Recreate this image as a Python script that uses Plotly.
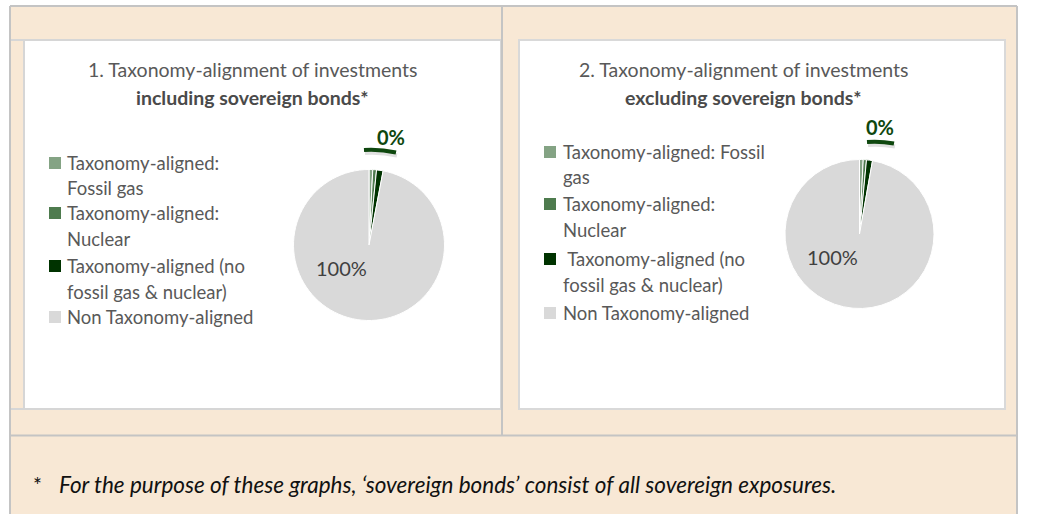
import plotly.graph_objects as go

W, H = 1038, 514

# ---------------- data ----------------
categories = ["Taxonomy-aligned: Fossil gas", "Taxonomy-aligned: Nuclear",
              "Taxonomy-aligned (no fossil gas & nuclear)", "Non Taxonomy-aligned"]
colors = ["#84A384", "#4E7B4E", "#003300", "#D9D9D9"]
values_incl = [0.8, 0.8, 1.4, 97.0]
values_excl = [0.8, 0.7, 1.3, 97.2]
labels_incl = ["0%", "100%"]   # data labels as printed (aligned, non aligned)
labels_excl = ["0%", "100%"]
legend_lines_left = [["Taxonomy-aligned:", "Fossil gas"], ["Taxonomy-aligned:", "Nuclear"],
                     ["Taxonomy-aligned (no", "fossil gas & nuclear)"], ["Non Taxonomy-aligned"]]
legend_lines_right = [["Taxonomy-aligned: Fossil", "gas"], ["Taxonomy-aligned:", "Nuclear"],
                      ["\u00a0Taxonomy-aligned (no", "fossil gas & nuclear)"], ["Non Taxonomy-aligned"]]
title_left = ["1. Taxonomy-alignment of investments", "including sovereign bonds*"]
title_right = ["2. Taxonomy-alignment of investments", "excluding sovereign bonds*"]
footnote = "For the purpose of these graphs, \u2018sovereign bonds\u2019 consist of all sovereign exposures."

FONT = "Lato, Carlito, Calibri, sans-serif"
BEIGE = "#F8E8D5"
GRID = "#C4C4C4"


def px(x):
    return x / W


def py(y):
    return 1 - y / H


fig = go.Figure()


def add_pie(vals, cx, cy, r):
    fig.add_trace(go.Pie(
        labels=categories, values=vals, sort=False, direction="clockwise", rotation=0,
        marker=dict(colors=colors, line=dict(color="white", width=1)),
        textinfo="none", hoverinfo="label+percent", showlegend=False,
        domain=dict(x=[px(cx - r), px(cx + r)], y=[py(cy + r), py(cy - r)]),
    ))


add_pie(values_incl, 369, 245, 75.5)
add_pie(values_excl, 859.5, 234, 74.5)

shapes = []
ann = []

# table backgrounds
shapes.append(dict(type="rect", xref="paper", yref="paper", x0=px(10), x1=px(1017), y0=py(514), y1=py(6),
                   fillcolor=BEIGE, line=dict(width=0), layer="below"))
# white chart boxes
shapes.append(dict(type="rect", xref="paper", yref="paper", x0=px(24), x1=px(501), y0=py(409), y1=py(40),
                   fillcolor="white", line=dict(color="#D6D6D6", width=2), layer="below"))
shapes.append(dict(type="rect", xref="paper", yref="paper", x0=px(519), x1=px(1005), y0=py(409), y1=py(40),
                   fillcolor="white", line=dict(color="#D9D9D9", width=2), layer="below"))
# left cell: lines across full cell
for yy in (40, 409):
    shapes.append(dict(type="line", xref="paper", yref="paper", x0=px(10), x1=px(502), y0=py(yy), y1=py(yy),
                       line=dict(color="#D6D6D6", width=2), layer="below"))
# table grid lines
grid_lines = [(10, 6, 1017, 6), (10, 6, 10, 514), (1017, 6, 1017, 514), (502, 6, 502, 435),
              (10, 435.5, 1017, 435.5)]
for x0, y0, x1, y1 in grid_lines:
    shapes.append(dict(type="line", xref="paper", yref="paper", x0=px(x0), x1=px(x1), y0=py(y0), y1=py(y1),
                       line=dict(color=GRID, width=2), layer="below"))

# titles
for tl, cx in ((title_left, 252), (title_right, 743.5)):
    ann.append(dict(x=px(cx), y=py(70), text=tl[0], showarrow=False, xanchor="center", yanchor="middle",
                    font=dict(family=FONT, size=19.5, color="#595959")))
    ann.append(dict(x=px(cx), y=py(97), text="<b>" + tl[1] + "</b>", showarrow=False, xanchor="center",
                    yanchor="middle", font=dict(family=FONT, size=19.5, color="#4A4A4A")))


def legend(lines_list, sq_x, tx, ys, line_gap):
    for i, lines in enumerate(lines_list):
        y0 = ys[i]
        shapes.append(dict(type="rect", xref="paper", yref="paper", x0=px(sq_x), x1=px(sq_x + 12),
                           y0=py(y0 + 6), y1=py(y0 - 6), fillcolor=colors[i], line=dict(width=0)))
        for j, t in enumerate(lines):
            ann.append(dict(x=px(tx), y=py(y0 + j * line_gap[i]), text=t, showarrow=False, xanchor="left",
                            yanchor="middle", font=dict(family=FONT, size=18.5, color="#595959")))


legend(legend_lines_left, 49, 65, [163, 213, 266, 317], [25, 26, 26, 0])
legend(legend_lines_right, 544, 561, [152, 204, 259, 313], [25, 26, 26, 0])


# data labels with leader lines
def data_labels(labs, lx, ly, line_pts, bx, by):
    (x0, y0), (x1, y1) = line_pts
    mx, my = (x0 + x1) / 2, min(y0, y1) - 1
    shapes.append(dict(type="path", xref="paper", yref="paper",
                       path=f"M {px(x0+1)},{py(y0+3)} Q {px(mx+1)},{py(my+3)} {px(x1+1)},{py(y1+3)}",
                       line=dict(color="rgba(0,0,0,0.12)", width=4)))
    shapes.append(dict(type="path", xref="paper", yref="paper",
                       path=f"M {px(x0)},{py(y0)} Q {px(mx)},{py(my)} {px(x1)},{py(y1)}",
                       line=dict(color="#0E470E", width=4)))
    ann.append(dict(x=px(lx), y=py(ly), text="<b>" + labs[0] + "</b>", showarrow=False, xanchor="center",
                    yanchor="middle", font=dict(family=FONT, size=20, color="#0E470E")))
    ann.append(dict(x=px(bx), y=py(by), text=labs[1], showarrow=False, xanchor="center",
                    yanchor="middle", font=dict(family=FONT, size=20, color="#404040")))


data_labels(labels_incl, 391, 137, ((364, 150), (396, 152.5)), 341, 268)
data_labels(labels_excl, 880, 127, ((867, 142), (894, 143.5)), 832.5, 257)

# footnote
ann.append(dict(x=px(31), y=py(484), text="*", showarrow=False, xanchor="left", yanchor="middle",
                font=dict(family=FONT, size=21, color="#111111")))
ann.append(dict(x=px(57), y=py(484), text="<i>" + footnote + "</i>", showarrow=False, xanchor="left",
                yanchor="middle", font=dict(family=FONT, size=22.5, color="#111111")))

fig.update_layout(width=W, height=H, margin=dict(l=0, r=0, t=0, b=0), paper_bgcolor="white",
                  plot_bgcolor="white", shapes=shapes, annotations=ann)
fig.write_html("out.html", config={"displayModeBar": False},
               post_script="document.body.style.margin='0';document.body.style.overflow='hidden';")
